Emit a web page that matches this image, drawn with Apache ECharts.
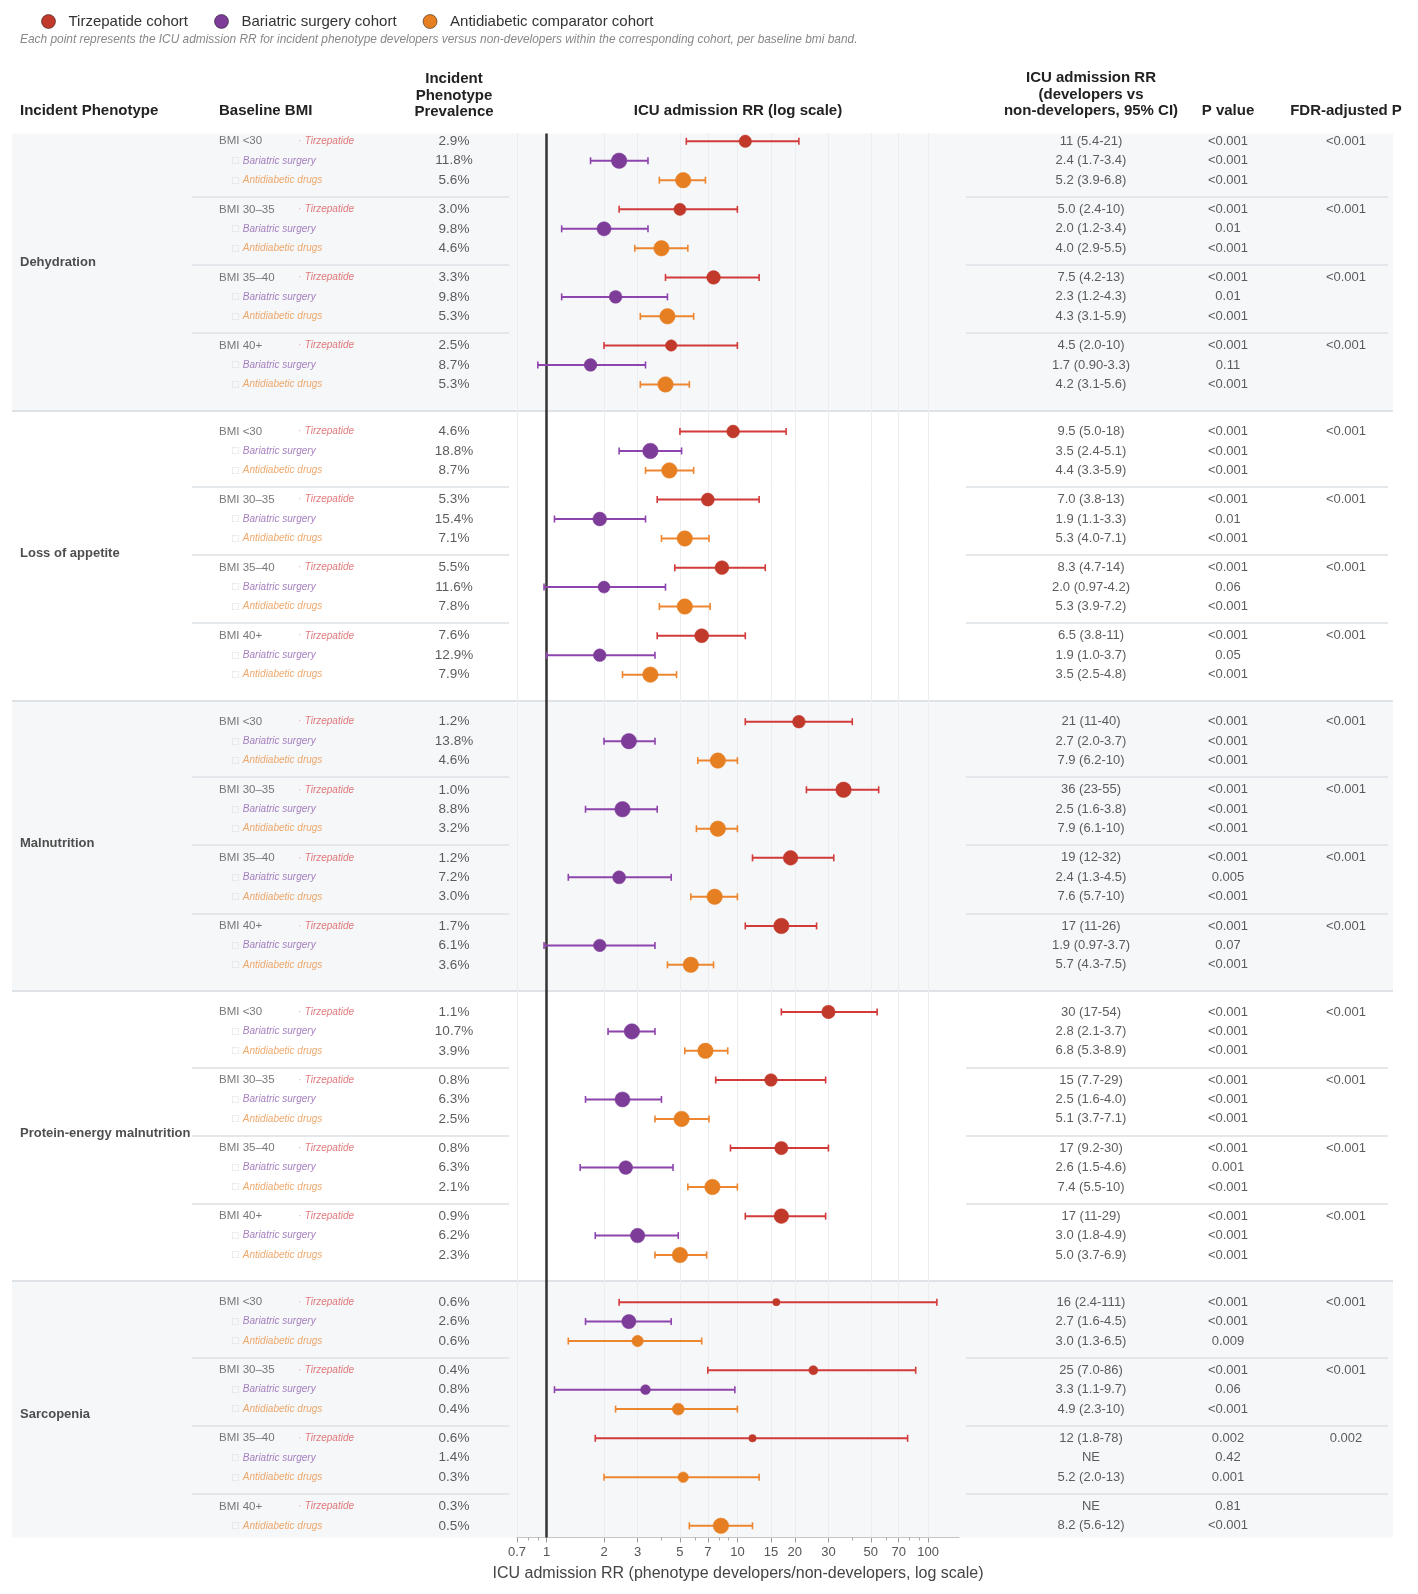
<!DOCTYPE html>
<html>
<head>
<meta charset="utf-8">
<title>ICU admission RR by incident phenotype</title>
<script src="https://cdn.jsdelivr.net/npm/echarts@6/dist/echarts.min.js"></script>
<style>
  html, body { margin: 0; padding: 0; background: #fff; }
  #chart { width: 1418px; height: 1594px; }
</style>
</head>
<body>
<div id="chart"></div>
<script>
// ---- data ----
const phenotypes = ['Dehydration', 'Loss of appetite', 'Malnutrition', 'Protein-energy malnutrition', 'Sarcopenia']
const bmiBands = ['BMI <30', 'BMI 30–35', 'BMI 35–40', 'BMI 40+']
const cohortNames = ['Tirzepatide cohort', 'Bariatric surgery cohort', 'Antidiabetic comparator cohort']
const cohortTags = ['Tirzepatide', 'Bariatric surgery', 'Antidiabetic drugs']

// one entry per phenotype x bmi band (phenotype-major), null = no row / not estimable
const tirzPrev = [2.9, 3.0, 3.3, 2.5, 4.6, 5.3, 5.5, 7.6, 1.2, 1.0, 1.2, 1.7, 1.1, 0.8, 0.8, 0.9, 0.6, 0.4, 0.6, 0.3]
const tirzRR = [11, 5.0, 7.5, 4.5, 9.5, 7.0, 8.3, 6.5, 21, 36, 19, 17, 30, 15, 17, 17, 16, 25, 12, null]
const tirzLo = [5.4, 2.4, 4.2, 2.0, 5.0, 3.8, 4.7, 3.8, 11, 23, 12, 11, 17, 7.7, 9.2, 11, 2.4, 7.0, 1.8, null]
const tirzHi = [21, 10, 13, 10, 18, 13, 14, 11, 40, 55, 32, 26, 54, 29, 30, 29, 111, 86, 78, null]
const tirzP = ['<0.001', '<0.001', '<0.001', '<0.001', '<0.001', '<0.001', '<0.001', '<0.001', '<0.001', '<0.001',
  '<0.001', '<0.001', '<0.001', '<0.001', '<0.001', '<0.001', '<0.001', '<0.001', '0.002', '0.81']
const tirzFdr = ['<0.001', '<0.001', '<0.001', '<0.001', '<0.001', '<0.001', '<0.001', '<0.001', '<0.001', '<0.001',
  '<0.001', '<0.001', '<0.001', '<0.001', '<0.001', '<0.001', '<0.001', '<0.001', '0.002', '']

const barPrev = [11.8, 9.8, 9.8, 8.7, 18.8, 15.4, 11.6, 12.9, 13.8, 8.8, 7.2, 6.1, 10.7, 6.3, 6.3, 6.2, 2.6, 0.8, 1.4, null]
const barRR = [2.4, 2.0, 2.3, 1.7, 3.5, 1.9, 2.0, 1.9, 2.7, 2.5, 2.4, 1.9, 2.8, 2.5, 2.6, 3.0, 2.7, 3.3, null, null]
const barLo = [1.7, 1.2, 1.2, 0.90, 2.4, 1.1, 0.97, 1.0, 2.0, 1.6, 1.3, 0.97, 2.1, 1.6, 1.5, 1.8, 1.6, 1.1, null, null]
const barHi = [3.4, 3.4, 4.3, 3.3, 5.1, 3.3, 4.2, 3.7, 3.7, 3.8, 4.5, 3.7, 3.7, 4.0, 4.6, 4.9, 4.5, 9.7, null, null]
const barP = ['<0.001', '0.01', '0.01', '0.11', '<0.001', '0.01', '0.06', '0.05', '<0.001', '<0.001',
  '0.005', '0.07', '<0.001', '<0.001', '0.001', '<0.001', '<0.001', '0.06', '0.42', null]

const antiPrev = [5.6, 4.6, 5.3, 5.3, 8.7, 7.1, 7.8, 7.9, 4.6, 3.2, 3.0, 3.6, 3.9, 2.5, 2.1, 2.3, 0.6, 0.4, 0.3, 0.5]
const antiRR = [5.2, 4.0, 4.3, 4.2, 4.4, 5.3, 5.3, 3.5, 7.9, 7.9, 7.6, 5.7, 6.8, 5.1, 7.4, 5.0, 3.0, 4.9, 5.2, 8.2]
const antiLo = [3.9, 2.9, 3.1, 3.1, 3.3, 4.0, 3.9, 2.5, 6.2, 6.1, 5.7, 4.3, 5.3, 3.7, 5.5, 3.7, 1.3, 2.3, 2.0, 5.6]
const antiHi = [6.8, 5.5, 5.9, 5.6, 5.9, 7.1, 7.2, 4.8, 10, 10, 10, 7.5, 8.9, 7.1, 10, 6.9, 6.5, 10, 13, 12]
const antiP = ['<0.001', '<0.001', '<0.001', '<0.001', '<0.001', '<0.001', '<0.001', '<0.001', '<0.001', '<0.001',
  '<0.001', '<0.001', '<0.001', '<0.001', '<0.001', '<0.001', '0.009', '<0.001', '0.001', '<0.001']

const majorTicks = [0.7, 1, 2, 3, 5, 7, 10, 15, 20, 30, 50, 70, 100]
const minorTicks = [0.8, 0.9, 4, 6, 8, 9, 40, 60, 80, 90]

// ---- styles ----
const FONT = '"Liberation Sans", Arial, Helvetica, sans-serif'
const dotColors = ['#c0392b', '#7d3c98', '#e67e22']
const lineColors = ['#d33a3a', '#8e44ad', '#ee8630']
const tagColors = ['#d9575a', '#8f5fb0', '#ea9448']

const cohortData = [
  { prev: tirzPrev, rr: tirzRR, lo: tirzLo, hi: tirzHi, p: tirzP, fdr: tirzFdr },
  { prev: barPrev, rr: barRR, lo: barLo, hi: barHi, p: barP, fdr: null },
  { prev: antiPrev, rr: antiRR, lo: antiLo, hi: antiHi, p: antiP, fdr: null }
]

// row layout: 1 unit per row, bigger steps between bmi groups and phenotypes
const GROUP_STEP = 1.5
const PHENO_STEP = 2.42
const rows = []
let pos = 0
phenotypes.forEach((ph, pi) => {
  bmiBands.forEach((band, bi) => {
    let first = true
    cohortData.forEach((c, ci) => {
      const k = pi * bmiBands.length + bi
      if (c.prev[k] == null) return
      if (rows.length) {
        const last = rows[rows.length - 1]
        pos += last.pi !== pi ? PHENO_STEP : last.bi !== bi ? GROUP_STEP : 1
      }
      rows.push({ pi, bi, ci, k, y: pos, first })
      first = false
    })
  })
})
const Y_MIN = -0.4
const Y_MAX = rows[rows.length - 1].y + 0.6

const fmt = (v) => (v >= 10 ? String(Math.round(v)) : v.toPrecision(2))

// phenotype bands, boundaries, bmi-group separators
const bandAreas = []
const bandLines = []
phenotypes.forEach((ph, pi) => {
  const pr = rows.filter((r) => r.pi === pi)
  const top = pi === 0 ? Y_MIN : pr[0].y - (PHENO_STEP - 1.33)
  const bottom = pi === phenotypes.length - 1 ? Y_MAX : pr[pr.length - 1].y + 1.33
  if (pi % 2 === 0) {
    bandAreas.push([{ xAxis: 12, yAxis: top }, { xAxis: 1393, yAxis: bottom }])
  }
  if (pi < phenotypes.length - 1) {
    bandLines.push([{ coord: [12, bottom] }, { coord: [1393, bottom], lineStyle: { color: '#dfe2e6', width: 2 } }])
  }
})
rows.forEach((r, i) => {
  const n = rows[i + 1]
  if (n && n.pi === r.pi && n.bi !== r.bi) {
    const y = r.y + 0.85
    bandLines.push([{ coord: [192, y] }, { coord: [509, y], lineStyle: { color: '#dde0e4', width: 1.5 } }])
    bandLines.push([{ coord: [966, y] }, { coord: [1388, y], lineStyle: { color: '#dde0e4', width: 1.5 } }])
  }
})

function textSeries(items, label) {
  return {
    type: 'scatter',
    xAxisIndex: 2,
    yAxisIndex: 1,
    symbolSize: 1,
    silent: true,
    z: 5,
    itemStyle: { color: 'transparent' },
    emphasis: { disabled: true },
    label: Object.assign(
      { show: true, position: 'inside', verticalAlign: 'middle', fontFamily: FONT, color: '#333', formatter: (p) => p.data.t },
      label
    ),
    data: items
  }
}

function cohortSeries(ci) {
  const c = cohortData[ci]
  return {
    type: 'custom',
    name: cohortNames[ci],
    xAxisIndex: 0,
    yAxisIndex: 0,
    z: 10,
    silent: true,
    itemStyle: { color: dotColors[ci] },
    encode: { x: [0, 1, 2], y: 3 },
    data: rows.filter((r) => r.ci === ci && c.rr[r.k] != null).map((r) => [c.lo[r.k], c.hi[r.k], c.rr[r.k], r.y]),
    renderItem(params, api) {
      const y = api.value(3)
      const lo = api.coord([api.value(0), y])
      const hi = api.coord([api.value(1), y])
      const pt = api.coord([api.value(2), y])
      // marker size from precision of the estimate (narrower CI -> bigger dot)
      const w = Math.log(api.value(1) / api.value(0))
      const dia = Math.max(7, Math.min(15.5, 14.5 / Math.sqrt(w)))
      const ls = { stroke: lineColors[ci], lineWidth: 2 }
      const cs = { stroke: lineColors[ci], lineWidth: 1.6 }
      return {
        type: 'group',
        children: [
          { type: 'line', shape: { x1: lo[0], y1: lo[1], x2: hi[0], y2: hi[1] }, style: ls },
          { type: 'line', shape: { x1: lo[0], y1: lo[1] - 3.5, x2: lo[0], y2: lo[1] + 3.5 }, style: cs },
          { type: 'line', shape: { x1: hi[0], y1: hi[1] - 3.5, x2: hi[0], y2: hi[1] + 3.5 }, style: cs },
          { type: 'circle', shape: { cx: pt[0], cy: pt[1], r: dia / 2 }, style: { fill: dotColors[ci], stroke: dotColors[ci], lineWidth: 0.5 } }
        ]
      }
    }
  }
}

const phenoItems = phenotypes.map((ph, pi) => {
  const pr = rows.filter((r) => r.pi === pi)
  return { value: [20, (pr[0].y + pr[pr.length - 1].y) / 2], t: ph }
})
const bmiItems = rows.filter((r) => r.first).map((r) => ({ value: [219, r.y], t: bmiBands[r.bi] }))
const tagItems = rows.map((r) => ({
  value: [r.ci === 0 ? 298 : 231, r.y],
  t: r.ci === 0 ? '{d|·} {c0|Tirzepatide}' : '{b|□} {c' + r.ci + '|' + cohortTags[r.ci] + '}'
}))
const prevItems = rows.map((r) => ({ value: [454, r.y], t: cohortData[r.ci].prev[r.k].toFixed(1) + '%' }))
const rrItems = rows.map((r) => {
  const c = cohortData[r.ci]
  const t = c.rr[r.k] == null ? 'NE' : fmt(c.rr[r.k]) + ' (' + fmt(c.lo[r.k]) + '-' + fmt(c.hi[r.k]) + ')'
  return { value: [1091, r.y], t }
})
const pItems = rows.map((r) => ({ value: [1228, r.y], t: cohortData[r.ci].p[r.k] }))
const fdrItems = rows.filter((r) => r.ci === 0 && tirzFdr[r.k]).map((r) => ({ value: [1346, r.y], t: tirzFdr[r.k] }))

const headStyle = { fontSize: 15, fontWeight: 'bold', fontFamily: FONT, fill: '#222', verticalAlign: 'middle', lineHeight: 16.4 }
const head = (x, y, text, align) => ({ type: 'text', x, y, silent: true, style: Object.assign({ text, align }, headStyle) })

const option = {
  animation: false,
  backgroundColor: '#fff',
  textStyle: { fontFamily: FONT },
  legend: {
    left: 36,
    top: 9,
    itemWidth: 30,
    itemHeight: 14,
    itemGap: 26,
    icon: 'circle',
    selectedMode: false,
    itemStyle: { borderColor: 'rgba(0,0,0,0.45)', borderWidth: 1 },
    textStyle: { fontSize: 15, color: '#333', fontFamily: FONT },
    data: cohortNames
  },
  graphic: [
    {
      type: 'text', x: 20, y: 39.5, silent: true,
      style: {
        text: 'Each point represents the ICU admission RR for incident phenotype developers versus non-developers within the corresponding cohort, per baseline bmi band.',
        fontSize: 11.9, fontStyle: 'italic', fontFamily: FONT, fill: '#888', verticalAlign: 'middle'
      }
    },
    head(20, 111, 'Incident Phenotype', 'left'),
    head(219, 111, 'Baseline BMI', 'left'),
    head(454, 95.5, 'Incident\nPhenotype\nPrevalence', 'center'),
    head(738, 111, 'ICU admission RR (log scale)', 'center'),
    head(1091, 94.5, 'ICU admission RR\n(developers vs\nnon-developers, 95% CI)', 'center'),
    head(1228, 111, 'P value', 'center'),
    head(1346, 111, 'FDR-adjusted P', 'center')
  ],
  grid: [
    { left: 517, right: 1418 - 959, top: 133.5, bottom: 1594 - 1537.5 },
    { left: 0, right: 0, top: 133.5, bottom: 1594 - 1537.5 }
  ],
  xAxis: [
    {
      type: 'log', gridIndex: 0, position: 'bottom', min: 0.7, max: 145,
      axisLine: { show: true, onZero: false, lineStyle: { color: '#c4c4c4', width: 1 } },
      axisTick: { show: true, customValues: majorTicks, length: 5, lineStyle: { color: '#9a9a9a' } },
      axisLabel: {
        show: true, customValues: majorTicks, color: '#555', fontSize: 13, margin: 8, fontFamily: FONT,
        formatter: (v) => String(+Number(v).toPrecision(3))
      },
      splitLine: { show: false },
      minorTick: { show: false },
      name: 'ICU admission RR (phenotype developers/non-developers, log scale)',
      nameLocation: 'middle',
      nameGap: 28,
      nameTextStyle: { fontSize: 16, color: '#444', fontFamily: FONT }
    },
    {
      type: 'log', gridIndex: 0, position: 'bottom', min: 0.7, max: 145,
      axisLine: { show: false, onZero: false },
      axisTick: { show: true, customValues: minorTicks, length: 3, lineStyle: { color: '#aaa' } },
      axisLabel: { show: false },
      splitLine: { show: false }
    },
    { type: 'value', gridIndex: 1, min: 0, max: 1418, show: false, axisLine: { onZero: false } }
  ],
  yAxis: [
    { type: 'value', gridIndex: 0, inverse: true, min: Y_MIN, max: Y_MAX, show: false, axisLine: { onZero: false } },
    { type: 'value', gridIndex: 1, inverse: true, min: Y_MIN, max: Y_MAX, show: false, axisLine: { onZero: false } }
  ],
  series: [
    {
      // background bands and separators
      type: 'scatter', xAxisIndex: 2, yAxisIndex: 1, z: 0, silent: true, data: [],
      markArea: { silent: true, z: 0, itemStyle: { color: '#f6f7f9' }, data: bandAreas },
      markLine: { silent: true, z: 1, symbol: ['none', 'none'], label: { show: false }, lineStyle: { type: 'solid' }, data: bandLines }
    },
    {
      // vertical grid lines + reference line at RR = 1
      type: 'scatter', xAxisIndex: 0, yAxisIndex: 0, z: 1, silent: true, data: [],
      markLine: {
        silent: true,
        z: 2,
        symbol: ['none', 'none'],
        label: { show: false },
        lineStyle: { type: 'solid', color: '#ebedf0', width: 1 },
        data: majorTicks.filter((v) => v !== 1).map((v) => ({ xAxis: v })).concat([
          { xAxis: 1, lineStyle: { color: '#333', width: 2.5, type: 'solid' } }
        ])
      }
    },
    cohortSeries(0),
    cohortSeries(1),
    cohortSeries(2),
    textSeries(phenoItems, { align: 'left', fontSize: 13, fontWeight: 'bold', color: '#222' }),
    textSeries(bmiItems, { align: 'left', fontSize: 11.5, color: '#555' }),
    textSeries(tagItems, {
      align: 'left',
      rich: {
        d: { fontSize: 10, color: '#e0a0a0', fontFamily: FONT },
        b: { fontSize: 9, color: '#d8d8d8', fontFamily: '"DejaVu Sans", sans-serif' },
        c0: { fontSize: 10, fontStyle: 'italic', color: tagColors[0], fontFamily: FONT },
        c1: { fontSize: 10, fontStyle: 'italic', color: tagColors[1], fontFamily: FONT },
        c2: { fontSize: 10, fontStyle: 'italic', color: tagColors[2], fontFamily: FONT }
      }
    }),
    textSeries(prevItems, { align: 'center', fontSize: 13.5, color: '#333' }),
    textSeries(rrItems, { align: 'center', fontSize: 13, color: '#333' }),
    textSeries(pItems, { align: 'center', fontSize: 13, color: '#333' }),
    textSeries(fdrItems, { align: 'center', fontSize: 13, color: '#333' })
  ]
}

const chart = echarts.init(document.getElementById('chart'))
chart.setOption(option)
window.addEventListener('resize', () => chart.resize())
</script>
</body>
</html>
